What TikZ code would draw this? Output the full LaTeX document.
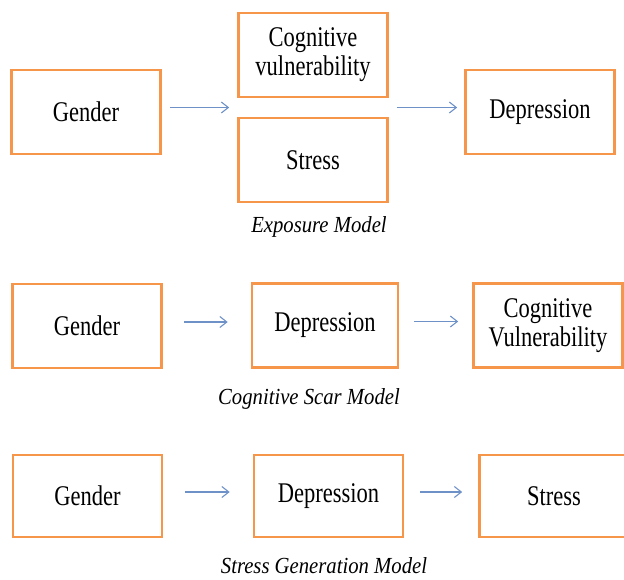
\documentclass[tikz,border=0pt]{standalone}
\usepackage{fontspec}
\setmainfont{Liberation Serif}
\newfontfamily\boxfont[FakeStretch=0.79]{Liberation Serif}
\newfontfamily\capfont[FakeStretch=0.9]{Liberation Serif}
\usetikzlibrary{arrows.meta, positioning, calc}
\definecolor{boxorange}{RGB}{245,150,75}
\definecolor{arrowblue}{RGB}{110,145,200}
\tikzset{
  box/.style={draw=boxorange, line width=2.6pt, minimum width=149pt, minimum height=84pt,
    align=center, inner sep=2pt, font=\boxfont\fontsize{28.5}{29}\selectfont},
  caption/.style={anchor=base, inner sep=0pt, font=\capfont\itshape\fontsize{23}{26}\selectfont},
  arr/.style={draw=arrowblue, line width=1.1pt, -{Straight Barb[length=7pt,width=11pt]}}
}

\begin{document}
\begin{tikzpicture}[x=1pt,y=-1pt]
\useasboundingbox (0,0) rectangle (624,579);

% Exposure Model
\node[box] (gen1) at (86,112) {Gender};
\node[box] (cog1) at (313,55) {Cognitive\\vulnerability};
\node[box] (str1) at (313,160) {Stress};
\node[box] (dep1) at (540,112) {Depression};
\draw[arr, shorten <=8pt, shorten >=8pt] ([yshift=4.5pt]gen1.east) -- ([yshift=4.5pt]gen1.east -| cog1.west);
\draw[arr, shorten <=8pt, shorten >=7pt] ([yshift=4.5pt]dep1.west -| cog1.east) -- ([yshift=4.5pt]dep1.west);
\node[caption] (cap1) at (319,232) {Exposure Model};

% Cognitive Scar Model
\node[box] (gen2) at (87,326) {Gender};
\node[box, minimum width=146pt] (dep2) at (325,325.5) {Depression};
\node[box] (cog2) at (548,325.5) {Cognitive\\Vulnerability};
\draw[arr, shorten <=21pt, shorten >=23pt] ([yshift=4pt]gen2.east) -- ([yshift=4pt]gen2.east -| dep2.west);
\draw[arr, shorten <=15pt, shorten >=14pt] ([yshift=4pt]dep2.east) -- ([yshift=4pt]dep2.east -| cog2.west);
\node[caption] (cap2) at (309,404) {Cognitive Scar Model};

% Stress Generation Model
\node[box, minimum height=82pt] (gen3) at (87.5,496) {Gender};
\node[box, minimum height=82pt] (dep3) at (328.5,496) {Depression};
\node[box, minimum height=82pt] (str3) at (554,496) {Stress};
\draw[arr, shorten <=22pt, shorten >=23pt] ([yshift=4pt]gen3.east) -- ([yshift=4pt]gen3.east -| dep3.west);
\draw[arr, shorten <=16pt, shorten >=16pt] ([yshift=4pt]dep3.east) -- ([yshift=4pt]dep3.east -| str3.west);
\node[caption] (cap3) at (324,573) {Stress Generation Model};
\end{tikzpicture}
\end{document}
